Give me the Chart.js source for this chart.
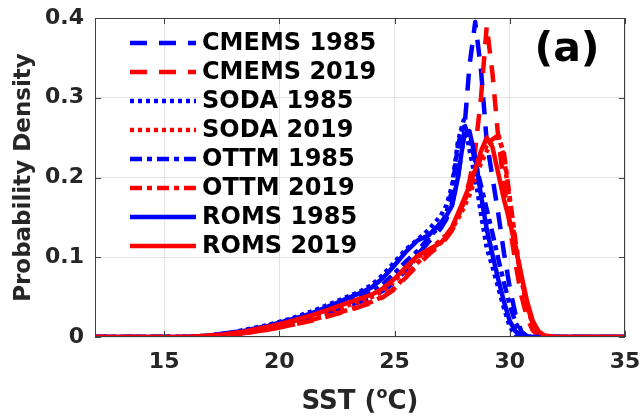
<!DOCTYPE html>
<html>
<head>
<meta charset="utf-8">
<script src="https://cdn.jsdelivr.net/npm/chart.js@4"></script>
<style>
html,body{margin:0;padding:0;background:#fff;}
#wrap{width:643px;height:416px;}
</style>
</head>
<body>
<div id="wrap"><canvas id="c" width="643" height="416"></canvas></div>
<script>
const sst = [12,16, 16.5,17,17.5,18,18.5,19,19.5,20,20.5,21,21.5,22,22.5,23,23.5,24,24.5,25,25.5,26,26.5,27,
  27.25,27.5,27.75,28,28.25,28.5,28.75,29,29.25,29.5,29.75,30,30.25,30.5,30.75,31,31.25,31.5, 32,35];

const cmems1985 = [0,0, 0,0.001,0.002,0.004,0.006,0.008,0.011,0.014,0.017,0.021,0.025,0.029,0.034,0.039,0.044,0.05,0.058,0.068,0.085,0.103,0.12,0.136,
  0.148,0.168,0.2,0.25,0.34,0.395,0.335,0.245,0.2,0.155,0.105,0.062,0.028,0.007,0.001,0,0,0, 0,0];
const cmems2019 = [0,0, 0,0.001,0.002,0.003,0.005,0.007,0.009,0.012,0.015,0.018,0.021,0.025,0.029,0.033,0.038,0.043,0.05,0.06,0.075,0.09,0.104,0.116,
  0.124,0.134,0.15,0.17,0.195,0.235,0.3,0.39,0.33,0.25,0.19,0.14,0.092,0.052,0.024,0.008,0.002,0, 0,0];
const soda1985 = [0,0, 0.001,0.002,0.004,0.006,0.009,0.012,0.015,0.019,0.023,0.028,0.033,0.039,0.045,0.051,0.057,0.065,0.078,0.094,0.11,0.122,0.135,0.152,
  0.165,0.19,0.245,0.272,0.235,0.2,0.155,0.112,0.088,0.062,0.036,0.013,0.003,0,0,0,0,0, 0,0];
const soda2019 = [0,0, 0.001,0.002,0.003,0.005,0.007,0.009,0.012,0.015,0.019,0.023,0.027,0.031,0.035,0.04,0.045,0.05,0.058,0.07,0.086,0.1,0.108,0.118,
  0.126,0.136,0.148,0.162,0.178,0.198,0.218,0.233,0.245,0.255,0.225,0.168,0.115,0.072,0.038,0.015,0.004,0, 0,0];
const ottm1985 = [0,0, 0,0.001,0.003,0.005,0.007,0.01,0.013,0.016,0.02,0.024,0.029,0.034,0.039,0.044,0.05,0.056,0.066,0.08,0.095,0.108,0.125,0.14,
  0.155,0.185,0.24,0.268,0.25,0.22,0.19,0.16,0.13,0.098,0.068,0.04,0.018,0.005,0,0,0,0, 0,0];
const ottm2019 = [0,0, 0,0.001,0.002,0.003,0.005,0.007,0.009,0.012,0.015,0.018,0.022,0.026,0.03,0.034,0.039,0.044,0.051,0.061,0.077,0.093,0.108,0.122,
  0.128,0.138,0.152,0.168,0.185,0.205,0.225,0.24,0.248,0.252,0.23,0.175,0.12,0.075,0.04,0.016,0.004,0.001, 0,0];
const roms1985 = [0,0, 0.001,0.002,0.004,0.006,0.008,0.011,0.014,0.018,0.022,0.026,0.031,0.037,0.043,0.049,0.055,0.062,0.074,0.09,0.107,0.121,0.128,0.143,
  0.152,0.165,0.2,0.25,0.258,0.225,0.178,0.135,0.103,0.072,0.044,0.02,0.007,0.002,0,0,0,0, 0,0];
const roms2019 = [0,0, 0.001,0.002,0.003,0.005,0.007,0.01,0.013,0.016,0.02,0.024,0.028,0.033,0.038,0.043,0.048,0.053,0.061,0.073,0.088,0.102,0.11,0.118,
  0.126,0.138,0.155,0.172,0.19,0.21,0.233,0.25,0.238,0.205,0.172,0.145,0.112,0.078,0.045,0.02,0.007,0.002, 0,0];

const seriesLabels = ['CMEMS 1985','CMEMS 2019','SODA 1985','SODA 2019','OTTM 1985','OTTM 2019','ROMS 1985','ROMS 2019'];
const seriesValues = [cmems1985,cmems2019,soda1985,soda2019,ottm1985,ottm2019,roms1985,roms2019];
const xTickValues = [15,20,25,30,35];
const yTickValues = [0,0.1,0.2,0.3,0.4];
const panelLabel = '(a)';

const BLUE = '#0000ff', RED = '#ff0000';
const colors = [BLUE,RED,BLUE,RED,BLUE,RED,BLUE,RED];
const dashes = [[17,12],[17,12],[4,4],[4,4],[12,5,5,5],[12,5,5,5],[],[]];
const FONT = 'DejaVu Sans';
const TXT = '#262626';

const datasets = seriesLabels.map((lab,i)=>({
  label: lab,
  data: sst.map((x,k)=>({x:x, y:seriesValues[i][k]})),
  borderColor: colors[i],
  backgroundColor: colors[i],
  borderWidth: 4.5,
  borderDash: dashes[i],
  borderCapStyle: 'butt',
  borderJoinStyle: 'round',
  pointRadius: 0,
  tension: 0,
  fill: false,
  order: seriesLabels.length - i
}));

const framePlugin = {
  id: 'frame',
  afterDatasetsDraw(chart){
    const {ctx, chartArea:a, scales} = chart;
    ctx.save();
    ctx.strokeStyle = '#404040';
    ctx.lineWidth = 1;
    ctx.setLineDash([]);
    ctx.strokeRect(a.left+0.5, a.top+0.5, a.right-a.left-1, a.bottom-a.top-1);
    const tl = 6;
    ctx.beginPath();
    xTickValues.forEach(v=>{
      const px = Math.round(scales.x.getPixelForValue(v))+0.5;
      ctx.moveTo(px, a.bottom); ctx.lineTo(px, a.bottom-tl);
      ctx.moveTo(px, a.top); ctx.lineTo(px, a.top+tl);
    });
    yTickValues.forEach(v=>{
      const py = Math.round(scales.y.getPixelForValue(v))+0.5;
      ctx.moveTo(a.left, py); ctx.lineTo(a.left+tl, py);
      ctx.moveTo(a.right, py); ctx.lineTo(a.right-tl, py);
    });
    ctx.stroke();
    ctx.restore();
  },
  afterDraw(chart){
    const {ctx, chartArea:a} = chart;
    ctx.save();
    // legend
    const x0 = a.left + 35, x1 = a.left + 101, tx = a.left + 107;
    ctx.font = 'bold 24px "' + FONT + '"';
    ctx.textBaseline = 'middle';
    ctx.textAlign = 'left';
    chart.data.datasets.forEach((ds,i)=>{
      const y = a.top + 25 + i*29;
      ctx.strokeStyle = ds.borderColor;
      ctx.lineWidth = 4.5;
      ctx.lineCap = 'butt';
      ctx.setLineDash(ds.borderDash || []);
      ctx.beginPath(); ctx.moveTo(x0,y); ctx.lineTo(x1,y); ctx.stroke();
      ctx.fillStyle = '#000';
      ctx.fillText(ds.label, tx, y+1);
    });
    ctx.setLineDash([]);
    // panel label
    ctx.font = 'bold 41px "' + FONT + '"';
    ctx.textAlign = 'center';
    ctx.textBaseline = 'middle';
    ctx.fillStyle = '#000';
    ctx.fillText(panelLabel, a.right - 58, a.top + 32);
    // x title with superscript
    const big = 'bold 26px "' + FONT + '"', small = 'bold 16px "' + FONT + '"';
    const p1 = 'SST (', p2 = 'o', p3 = 'C)';
    ctx.font = big; const w1 = ctx.measureText(p1).width, w3 = ctx.measureText(p3).width;
    ctx.font = small; const w2 = ctx.measureText(p2).width;
    const total = w1+w2+w3;
    let sx = (a.left + a.right)/2 - total/2;
    const by = a.bottom + 72;
    ctx.textAlign = 'left';
    ctx.textBaseline = 'alphabetic';
    ctx.fillStyle = TXT;
    ctx.font = big; ctx.fillText(p1, sx, by); sx += w1;
    ctx.font = small; ctx.fillText(p2, sx, by-11); sx += w2;
    ctx.font = big; ctx.fillText(p3, sx, by);
    ctx.restore();
  }
};

new Chart(document.getElementById('c'), {
  type: 'line',
  data: { datasets },
  options: {
    responsive: false,
    animation: false,
    devicePixelRatio: 1,
    layout: { padding: { top: 18, right: 18, left: 0, bottom: 0 } },
    plugins: { legend: { display: false }, tooltip: { enabled: false }, title: { display: false } },
    scales: {
      x: {
        type: 'linear', min: 12, max: 35,
        afterBuildTicks: s => { s.ticks = xTickValues.map(v=>({value:v})); },
        afterFit: s => { s.height = 79; s.paddingLeft = 0; s.paddingRight = 0; },
        ticks: { font: { family: FONT, size: 22, weight: 'bold' }, color: TXT, padding: 12, maxRotation: 0 },
        grid: { color: '#e3e3e3', lineWidth: 1, drawTicks: false },
        border: { display: false },
        title: { display: false }
      },
      y: {
        type: 'linear', min: 0, max: 0.4,
        afterBuildTicks: s => { s.ticks = yTickValues.map(v=>({value:v})); },
        afterFit: s => { s.width = 95; s.paddingTop = 0; s.paddingBottom = 0; },
        ticks: { font: { family: FONT, size: 22, weight: 'bold' }, color: TXT, padding: 11,
          callback: v => (v === 0 ? '0' : (+v).toFixed(1)) },
        grid: { color: '#e3e3e3', lineWidth: 1, drawTicks: false },
        border: { display: false },
        title: { display: true, text: 'Probability Density', color: TXT,
          font: { family: FONT, size: 23, weight: 'bold' }, padding: { top: 10, bottom: 0 } }
      }
    }
  },
  plugins: [framePlugin]
});
</script>
</body>
</html>
